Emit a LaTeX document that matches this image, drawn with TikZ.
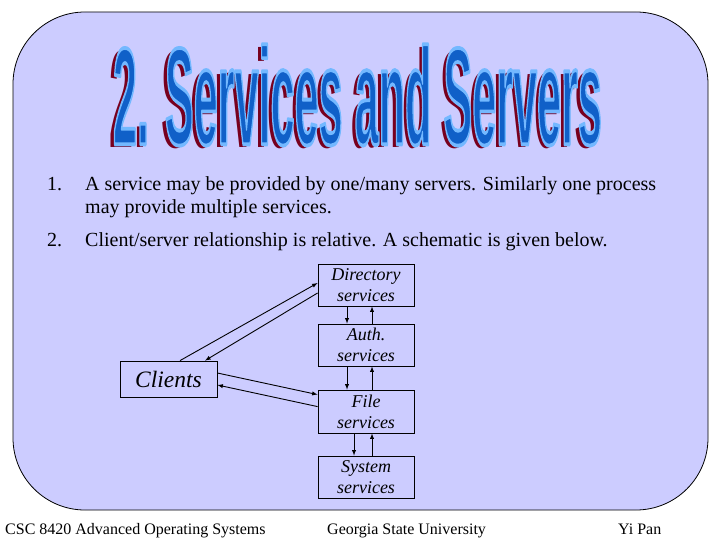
\documentclass[tikz,border=0pt]{standalone}
\usepackage{fontspec}
\setmainfont{Liberation Serif}
\newfontfamily\titlefont{Liberation Sans}
\usetikzlibrary{arrows,calc}
\definecolor{slidefill}{RGB}{204,204,255}
\definecolor{titleblue}{RGB}{16,96,200}
\definecolor{titleshade}{RGB}{120,0,30}
\newcommand{\slidetitle}{\resizebox{489pt}{100pt}{\titlefont\bfseries 2. Services and Servers}}
% blue title with a light blue rim
\newcommand{\rimtitle}{\resizebox{489pt}{100pt}{\titlefont\bfseries\color{titleblue}%
  \special{pdf:literal direct 0.45 0.72 1 RG 0.28 w 1 j 2 Tr}2. Services and Servers\special{pdf:literal direct 0 Tr}}}
\tikzset{
  srvbox/.style={draw, line width=0.8pt, minimum width=96pt, minimum height=42pt, inner sep=0pt,
    align=center, font=\fontsize{18}{21}\selectfont\itshape},
  bodytext/.style={anchor=base west, inner sep=0pt, font=\fontsize{20}{24}\selectfont},
  foottext/.style={anchor=base west, inner sep=0pt, font=\fontsize{16}{18}\selectfont},
  link/.style={line width=0.9pt, -latex}
}
\begin{document}
\begin{tikzpicture}[x=1pt, y=-1pt]
    \useasboundingbox (0,0) rectangle (720,540);
    % slide background
    \draw[fill=slidefill, line width=0.8pt, rounded corners=72pt] (13,12) rectangle (708,510);
    % title
    \node[inner sep=0pt, text=titleshade] (shade) at (354.5,98) {\slidetitle};
    \node[inner sep=0pt] (title) at (357.5,95) {\rimtitle};
    % items
    \node[bodytext] (n1) at (47,191) {1.};
    \node[bodytext] (t1) at (85,191) {A service may be provided by one/many servers. Similarly one process};
    \node[bodytext] (t1b) at (85,214) {may provide multiple services.};
    \node[bodytext] (n2) at (47,246) {2.};
    \node[bodytext] (t2) at (85,246) {Client/server relationship is relative. A schematic is given below.};
    % schematic
    \node[srvbox] (dir) at (366,285) {Directory\\services};
    \node[srvbox] (auth) at (366,345) {Auth.\\services};
    \node[srvbox, minimum height=43pt] (file) at (366,411.5) {File\\services};
    \node[srvbox] (sys) at (366,477) {System\\services};
    \node[draw, line width=0.8pt, minimum width=97pt, minimum height=36pt, inner sep=0pt,
        font=\fontsize{23.5}{26}\selectfont\itshape] (cli) at (168.5,379) {Clients};
    \draw[link] ($(cli.north)+(11.5,0)$) -- ($(dir.west)+(0,-2)$);
    \draw[link] ($(dir.west)+(0,8)$) -- ($(cli.north)+(36.5,0)$);
    \draw[link] ($(cli.east)+(0,-6)$) -- ($(file.north west)+(0,5)$);
    \draw[link] ($(file.north west)+(0,17)$) -- ($(cli.east)+(0,6)$);
    \draw[link] ($(dir.south)+(-19,0)$) -- ($(auth.north)+(-19,0)$);
    \draw[link] ($(auth.north)+(6,0)$) -- ($(dir.south)+(6,0)$);
    \draw[link] ($(auth.south)+(-19,0)$) -- ($(file.north)+(-19,0)$);
    \draw[link] ($(file.north)+(6,0)$) -- ($(auth.south)+(6,0)$);
    \draw[link] ($(file.south)+(-12,0)$) -- ($(sys.north)+(-12,0)$);
    \draw[link] ($(sys.north)+(6,0)$) -- ($(file.south)+(6,0)$);
    % footer
    \node[foottext] (course) at (5,534) {CSC 8420 Advanced Operating Systems};
    \node[foottext] (univ) at (327,534) {Georgia State University};
    \node[foottext] (author) at (618,534) {Yi Pan};
\end{tikzpicture}
\end{document}
